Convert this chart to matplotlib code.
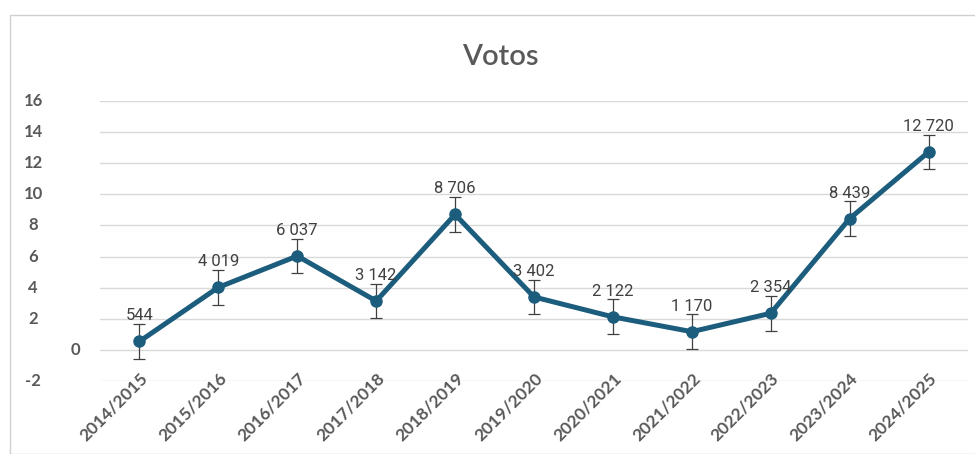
import matplotlib
matplotlib.use("Agg")
import matplotlib.pyplot as plt
from matplotlib.patches import Rectangle
import matplotlib.transforms as mtransforms

# Data (values in thousands of votes)
seasons = ["2014/2015", "2015/2016", "2016/2017", "2017/2018", "2018/2019", "2019/2020",
           "2020/2021", "2021/2022", "2022/2023", "2023/2024", "2024/2025"]
votes = [0.544, 4.019, 6.037, 3.142, 8.706, 3.402, 2.122, 1.170, 2.354, 8.439, 12.720]
value_labels = ["544", "4 019", "6 037", "3 142", "8 706", "3 402",
                "2 122", "1 170", "2 354", "8 439", "12 720"]
err = [1.12] * len(votes)
y_ticks = [-2, 0, 2, 4, 6, 8, 10, 12, 14, 16]

line_color = "#1c5d7d"
text_gray = "#595959"
grid_gray = "#d9d9d9"

fig = plt.figure(figsize=(9.75, 4.54), dpi=100)
W, H = 975, 454

# chart border
fig.patches.append(Rectangle((10 / W, 0), 1.0, (H - 15) / H, transform=fig.transFigure,
                             fill=False, edgecolor="#d0d0d0", linewidth=1))

ax = fig.add_axes([100 / W, (H - 381) / H, 868 / W, 280 / H])
x = list(range(len(seasons)))

ax.set_xlim(-0.5, len(seasons) - 0.5)
ax.set_ylim(-2, 16)
for t in y_ticks:
    ax.axhline(t, color=grid_gray, linewidth=1, zorder=0)
for s in ax.spines.values():
    s.set_visible(False)

ax.errorbar(x, votes, yerr=err, fmt="none", ecolor="#404040", elinewidth=0.9,
            capsize=4, capthick=0.9, zorder=2)
ax.plot(x, votes, color=line_color, linewidth=3.6, marker="o", markersize=8,
        solid_joinstyle="round", zorder=3)

for xi, v, lab in zip(x, votes, value_labels):
    ax.annotate(lab, (xi, v), xytext=(0, 13), textcoords="offset points",
                ha="center", va="bottom", fontsize=12, color="#404040",
                family=["Liberation Sans Narrow", "Roboto", "DejaVu Sans"], stretch="condensed")

# y tick labels drawn as text (the 0 label sits further right)
ax.set_yticks([])
trans = mtransforms.blended_transform_factory(fig.transFigure, ax.transData)
for t in y_ticks:
    xpos = 75 / W if t == 0 else 33 / W
    ax.text(xpos, t, str(t), transform=trans, ha="center", va="center",
            fontsize=12, color=text_gray, family=["Lato", "DejaVu Sans"], fontweight="bold")

ax.set_xticks(x)
ax.set_xticklabels(seasons, rotation=45, ha="right", rotation_mode="anchor",
                   fontsize=12.5, color=text_gray, family=["Lato", "DejaVu Sans"], fontweight="bold")
ax.tick_params(axis="x", length=0, pad=-8)

fig.text(500 / W, (H - 57) / H, "Votos", ha="center", va="center", fontsize=21,
         color=text_gray, family=["Lato", "DejaVu Sans"], fontweight="semibold")

fig.savefig("out.png", dpi=100, facecolor="white")
